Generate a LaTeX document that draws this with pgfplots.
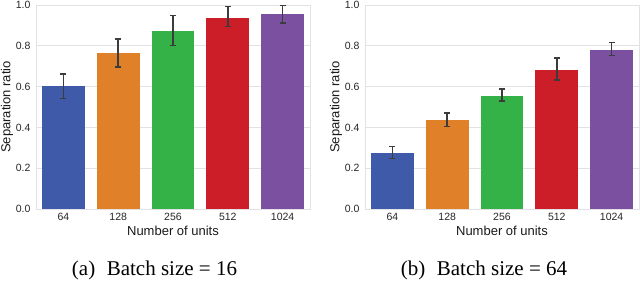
\documentclass[border=0pt]{standalone}
\usepackage{pgfplots}
\pgfplotsset{compat=1.18}
\usepackage{fontspec}
\setmainfont{Liberation Serif}
\setsansfont{Liberation Sans}
\definecolor{cblue}{RGB}{64,90,170}
\definecolor{corange}{RGB}{224,128,40}
\definecolor{cgreen}{RGB}{52,178,72}
\definecolor{cred}{RGB}{204,30,40}
\definecolor{cpurple}{RGB}{124,80,160}
\definecolor{gridc}{RGB}{225,225,230}
\definecolor{errc}{RGB}{60,60,60}
\pgfplotsset{
  sepstyle/.style={
    width=274pt, height=204pt, scale only axis,
    anchor=south west,
    xmin=-0.5, xmax=4.5, ymin=0, ymax=1,
    xtick={0,1,2,3,4}, xticklabels={64,128,256,512,1024},
    ytick={0,0.2,0.4,0.6,0.8,1.0},
    yticklabels={0.0,0.2,0.4,0.6,0.8,1.0},
    major tick length=0pt,
    axis line style={draw=gridc, line width=0.8pt},
    ymajorgrids, grid style={draw=gridc, line width=0.8pt},
    tick label style={font=\sffamily\fontsize{10.5}{12}\selectfont, text=black!85},
    label style={font=\sffamily\fontsize{13}{15}\selectfont, text=black!90},
    xlabel={Number of units}, ylabel={Separation ratio},
    yticklabel style={xshift=-2pt},
    xticklabel style={yshift=-1pt},
    xlabel style={yshift=2pt},
    ylabel style={yshift=-4pt},
    ybar, bar width=0.78, bar shift=0pt,
    error bars/y dir=both, error bars/y explicit,
    error bars/error bar style={line width=1.6pt, color=errc},
    error bars/error mark options={rotate=90, mark size=3pt, line width=1.6pt, color=errc},
  },
  every axis plot/.append style={draw=none},
}
\begin{document}
\begin{tikzpicture}[x=1pt,y=1pt]
\path[use as bounding box] (0,0) rectangle (640,282);
\begin{axis}[sepstyle, at={(36pt,73pt)}]
\addplot[fill=cblue] coordinates {(0,0.601) += (0,0.061) -= (0,0.059)};
\addplot[fill=corange] coordinates {(1,0.763) += (0,0.070) -= (0,0.067)};
\addplot[fill=cgreen] coordinates {(2,0.874) += (0,0.074) -= (0,0.073)};
\addplot[fill=cred] coordinates {(3,0.938) += (0,0.054) -= (0,0.044)};
\addplot[fill=cpurple] coordinates {(4,0.956) += (0,0.042) -= (0,0.043)};
\end{axis}
\begin{axis}[sepstyle, at={(365pt,73pt)}]
\addplot[fill=cblue] coordinates {(0,0.275) += (0,0.031) -= (0,0.027)};
\addplot[fill=corange] coordinates {(1,0.435) += (0,0.037) -= (0,0.031)};
\addplot[fill=cgreen] coordinates {(2,0.556) += (0,0.032) -= (0,0.027)};
\addplot[fill=cred] coordinates {(3,0.680) += (0,0.060) -= (0,0.048)};
\addplot[fill=cpurple] coordinates {(4,0.781) += (0,0.036) -= (0,0.028)};
\end{axis}
\node[font=\rmfamily\fontsize{21}{25}\selectfont] at (154.5,12) {(a)\hspace{0.55em}Batch size = 16};
\node[font=\rmfamily\fontsize{21}{25}\selectfont] at (484,12) {(b)\hspace{0.55em}Batch size = 64};
\end{tikzpicture}
\end{document}
